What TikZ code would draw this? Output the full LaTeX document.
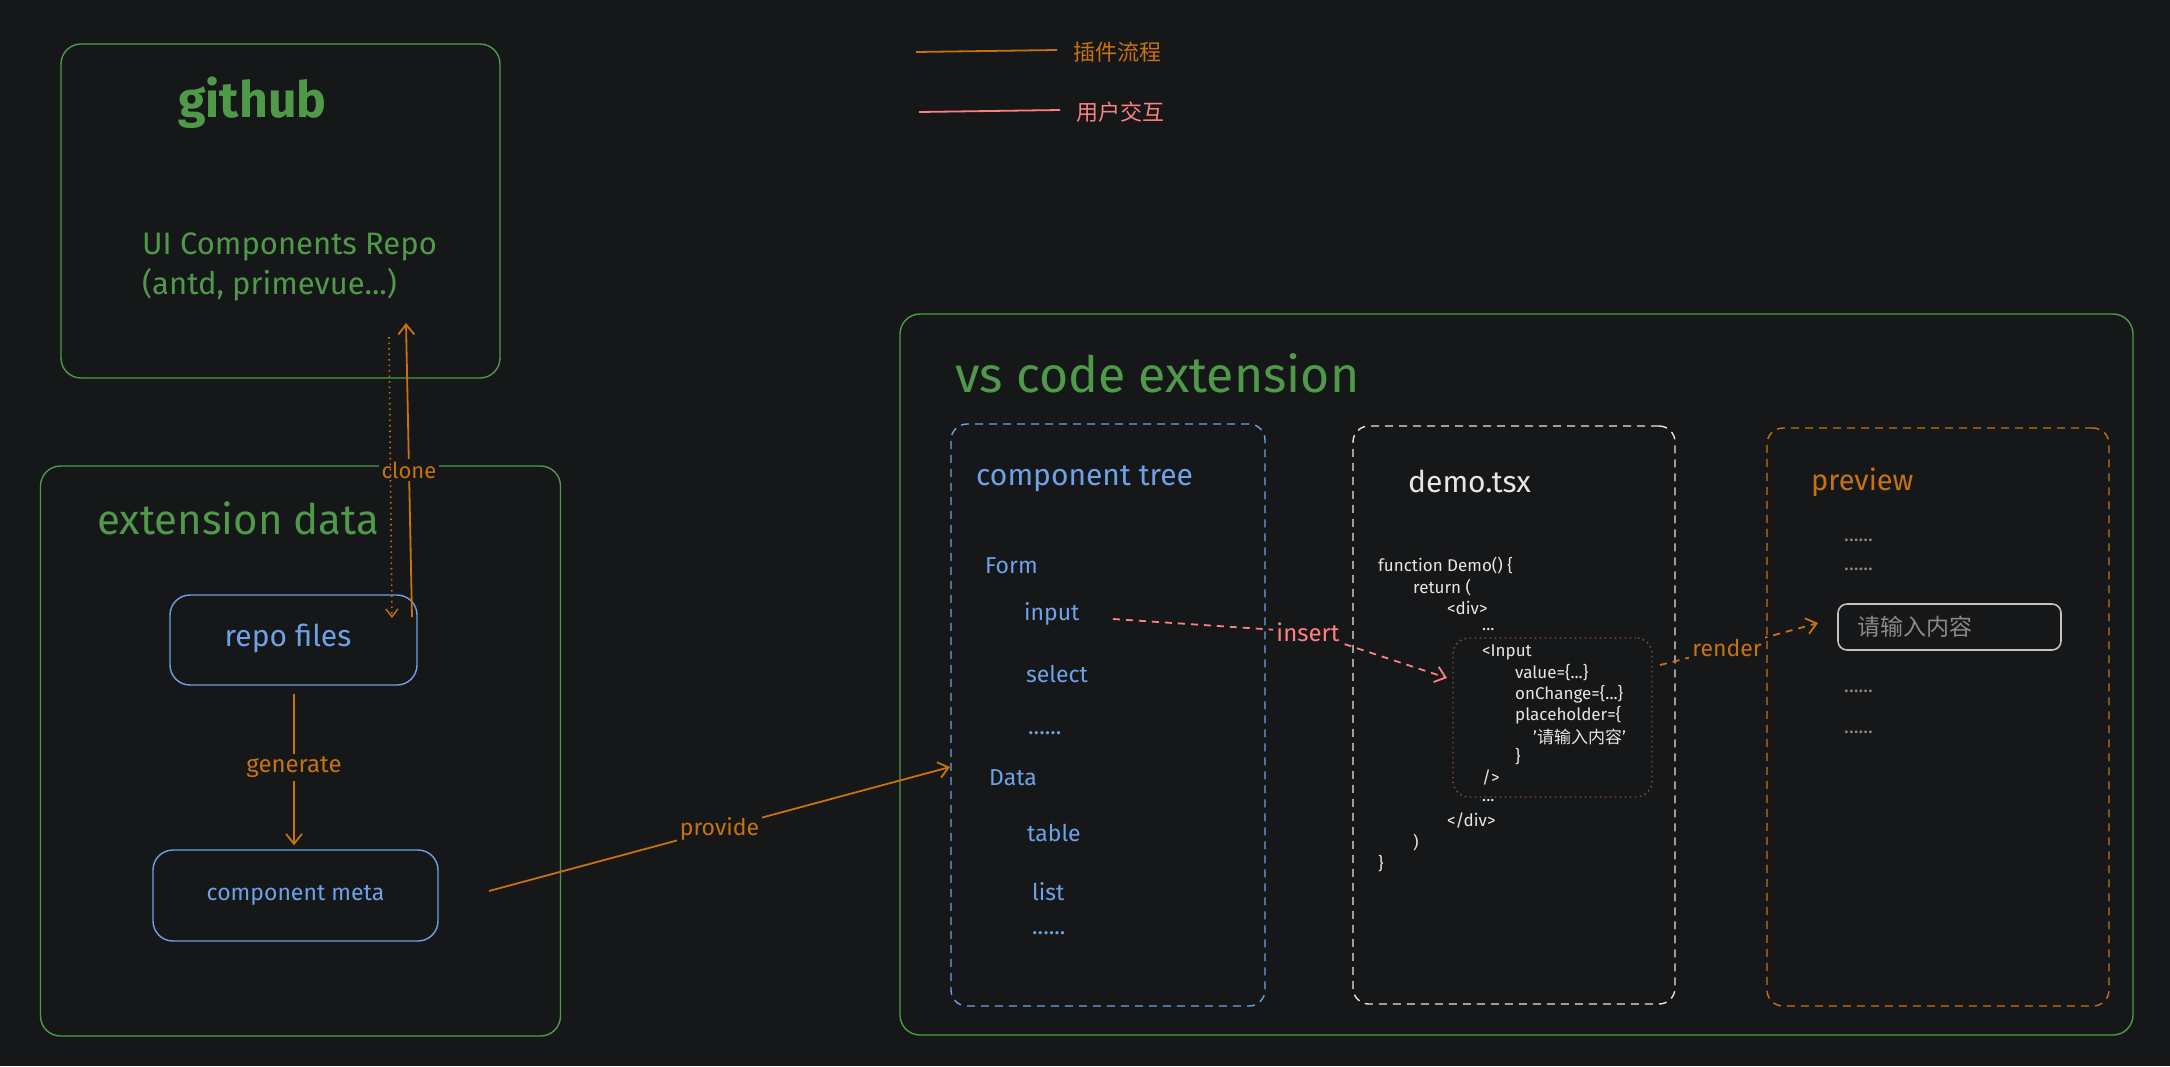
\documentclass[tikz,border=0pt]{standalone}
\usepackage{fontspec}
\setmainfont{Fira Sans}
\newfontfamily\cjk{Noto Sans CJK SC}
\usetikzlibrary{arrows.meta}
\definecolor{bg}{HTML}{161719}
\definecolor{cgreen}{HTML}{4E9A49}
\definecolor{cblue}{HTML}{6EA2E8}
\definecolor{corange}{HTML}{C7720E}
\definecolor{cpink}{HTML}{FF8080}
\definecolor{cwhite}{HTML}{E6E6E6}
\definecolor{cdusk}{HTML}{8E4A4A}
\definecolor{cgray}{HTML}{8A8A8A}
\tikzset{
  frame/.style={draw, rounded corners=20pt, line width=1.4pt, inner sep=0pt},
  greenbox/.style={frame, draw=cgreen},
  bluebox/.style={frame, draw=cblue},
  treebox/.style={frame, draw=cblue, dash pattern=on 8pt off 6pt, rounded corners=16pt},
  demobox/.style={frame, draw=cwhite, dash pattern=on 8pt off 6pt, rounded corners=16pt},
  prevbox/.style={frame, draw=corange, dash pattern=on 8pt off 6pt, rounded corners=16pt},
  dotbox/.style={frame, draw=cdusk, dash pattern=on 1.5pt off 3.5pt, rounded corners=16pt},
  inbox/.style={frame, draw=cwhite!85!black, rounded corners=9pt, line width=1.6pt},
  txt/.style={inner sep=0pt, anchor=west},
  lbl/.style={fill=bg, inner sep=3pt},
  flow/.style={draw=corange, line width=1.8pt, -{Straight Barb[length=10pt,width=16pt,line width=1.8pt]}},
  code/.style={txt, text=cwhite, font=\fontsize{17}{17}\selectfont},
  item/.style={txt, text=cblue, font=\fontsize{23}{23}\selectfont},
}
\begin{document}
\begin{tikzpicture}[x=1pt,y=-1pt]
\useasboundingbox[fill=bg] (0,0) rectangle (2170,1066);

% legend
\coordinate (lgA1) at (916,52); \coordinate (lgA2) at (1057,50);
\coordinate (lgB1) at (919,112); \coordinate (lgB2) at (1060,110);
\draw[corange, line width=1.8pt] (lgA1) -- (lgA2);
\draw[cpink, line width=1.8pt] (lgB1) -- (lgB2);
\node[txt, text=corange, font=\cjk\fontsize{22}{22}\selectfont] (lgAt) at (1073,52) {插件流程};
\node[txt, text=cpink, font=\cjk\fontsize{22}{22}\selectfont] (lgBt) at (1076,112) {用户交互};

% github
\node[greenbox, minimum width=439pt, minimum height=334pt] (github) at (280.5,211) {};
\node[txt, text=cgreen, font=\fontsize{50}{50}\selectfont\bfseries] (ghT) at (178,103) {github};
\node[txt, text=cgreen, font=\fontsize{31}{40}\selectfont, align=left] (ghR) at (142,267) {UI Components Repo\\(antd, primevue...)};

% extension data
\node[greenbox, minimum width=520pt, minimum height=570pt] (extdata) at (300.5,751) {};
\node[txt, text=cgreen, font=\fontsize{42}{42}\selectfont] (edT) at (97,518) {extension data};
\node[bluebox, minimum width=247pt, minimum height=90pt] (repo) at (293.5,640) {};
\node[text=cblue, font=\fontsize{30}{30}\selectfont, inner sep=0pt] (repoT) at (288,638) {repo files};
\node[bluebox, minimum width=285pt, minimum height=91pt] (meta) at (295.5,895.5) {};
\node[text=cblue, font=\fontsize{23}{23}\selectfont, inner sep=0pt] (metaT) at (meta) {component meta};

% clone
\coordinate (cloneBot) at (412,617); \coordinate (cloneTop) at (406,323);
\draw[flow] (cloneBot) -- node[lbl, text=corange, font=\fontsize{22}{22}\selectfont, pos=0.5] (cloneL) {clone} (cloneTop);
\coordinate (dotTop) at (389,337); \coordinate (dotBot) at (392,618);
\draw[draw=corange, line width=1.6pt, dash pattern=on 1.5pt off 4pt, -{Straight Barb[length=8pt,width=12pt,line width=1.4pt]}] (dotTop) -- (dotBot);

% generate
\draw[flow, shorten <=8pt, shorten >=4pt] (repo.south -| 294,0) -- node[lbl, text=corange, font=\fontsize{24}{24}\selectfont] (genL) {generate} (meta.north -| 294,0);

% vs code extension
\node[greenbox, minimum width=1233pt, minimum height=721pt] (vscode) at (1516.5,674.5) {};
\node[txt, text=cgreen, font=\fontsize{50}{50}\selectfont] (vsT) at (955,373) {vs code extension};

% component tree
\node[treebox, minimum width=314pt, minimum height=582pt] (tree) at (1108,715) {};
\node[txt, text=cblue, font=\fontsize{30}{30}\selectfont] (treeT) at (976,479) {component tree};
\node[item] (iForm) at (985,566) {Form};
\node[item] (iInput) at (1024,614) {input};
\node[item] (iSelect) at (1026,674) {select};
\node[item] (iDots1) at (1028,733) {......};
\node[item] (iData) at (989,778) {Data};
\node[item] (iTable) at (1027,833) {table};
\node[item] (iList) at (1032,892) {list};
\node[item] (iDots2) at (1032,933) {......};

% demo.tsx
\node[demobox, minimum width=322pt, minimum height=578pt] (demo) at (1514,715) {};
\node[txt, text=cwhite, font=\fontsize{30}{30}\selectfont] (demoT) at (1408,481) {demo.tsx};
\node[code] (c1) at (1378,566) {function Demo() \{};
\node[code] (c2) at (1413,588) {return (};
\node[code] (c3) at (1447,608) {<div>};
\node[code] (c4) at (1482,630) {...};
\node[code] (c5) at (1482,652) {<Input};
\node[code] (c6) at (1515,673) {value=\{...\}};
\node[code] (c7) at (1515,694) {onChange=\{...\}};
\node[code] (c8) at (1515,715) {placeholder=\{};
\node[code] (c9) at (1533,737) {'{\cjk 请输入内容}'};
\node[code] (c10) at (1515,757) {\}};
\node[code] (c11) at (1482,778) {/>};
\node[code] (c12) at (1482,801) {...};
\node[code] (c13) at (1447,821) {</div>};
\node[code] (c14) at (1413,843) {)};
\node[code] (c15) at (1378,864) {\}};
\node[dotbox, minimum width=199pt, minimum height=159pt] (inblock) at (1552.5,717.5) {};

% preview
\node[prevbox, minimum width=342pt, minimum height=578pt] (preview) at (1938,717) {};
\node[txt, text=corange, font=\fontsize{29}{29}\selectfont] (prevT) at (1811,482) {preview};
\node[txt, text=cgray, font=\fontsize{20}{20}\selectfont] (pd1) at (1844,540) {......};
\node[txt, text=cgray, font=\fontsize{20}{20}\selectfont] (pd2) at (1844,569) {......};
\node[txt, text=cgray, font=\fontsize{20}{20}\selectfont] (pd3) at (1844,691) {......};
\node[txt, text=cgray, font=\fontsize{20}{20}\selectfont] (pd4) at (1844,732) {......};
\node[inbox, minimum width=223pt, minimum height=46pt] (pinput) at (1949.5,627) {};
\node[txt, text=cgray, font=\cjk\fontsize{23}{23}\selectfont] (pinputT) at (1857,627) {请输入内容};

% provide
\coordinate (provS) at (489,891); \coordinate (provE) at (950,767);
\draw[flow] (provS) -- node[lbl, text=corange, font=\fontsize{23}{23}\selectfont, pos=0.5] (provL) {provide} (provE);

% insert
\coordinate (insS) at (1113,619); \coordinate (insM) at (1308,632); \coordinate (insE) at (1447,678);
\draw[draw=cpink, line width=1.8pt, dash pattern=on 7pt off 6pt, -{Straight Barb[length=10pt,width=16pt,line width=1.8pt]}] (insS) -- (insM) -- (insE);
\node[lbl, text=cpink, font=\fontsize{24}{24}\selectfont] (insL) at (insM) {insert};

% render
\coordinate (renS) at (1660,665); \coordinate (renM) at (1727,648); \coordinate (renE) at (1818,623);
\draw[draw=corange, line width=1.8pt, dash pattern=on 7pt off 6pt, -{Straight Barb[length=10pt,width=16pt,line width=1.8pt]}] (renS) -- (renM) -- (renE);
\node[lbl, text=corange, font=\fontsize{23}{23}\selectfont] (renL) at (renM) {render};
\end{tikzpicture}
\end{document}
